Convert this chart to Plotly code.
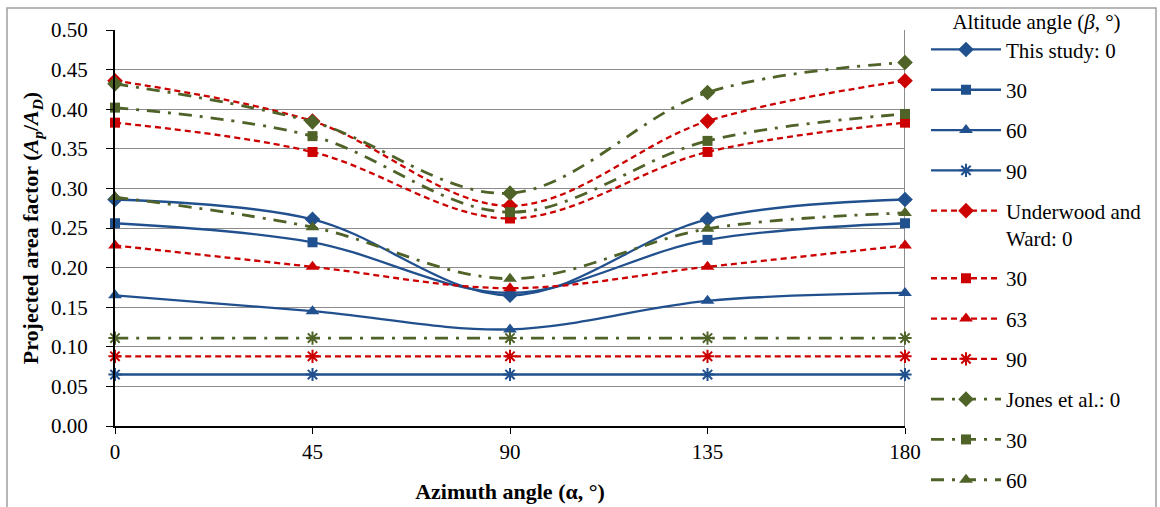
import plotly.graph_objects as go

azimuth = [0, 45, 90, 135, 180]

this_0 = [0.286, 0.261, 0.165, 0.261, 0.286]
this_30 = [0.256, 0.232, 0.168, 0.235, 0.256]
this_60 = [0.165, 0.145, 0.122, 0.158, 0.168]
this_90 = [0.065, 0.065, 0.065, 0.065, 0.065]

uw_0 = [0.436, 0.385, 0.278, 0.385, 0.436]
uw_30 = [0.383, 0.346, 0.262, 0.346, 0.383]
uw_63 = [0.228, 0.201, 0.174, 0.201, 0.228]
uw_90 = [0.088, 0.088, 0.088, 0.088, 0.088]

jones_0 = [0.432, 0.384, 0.294, 0.421, 0.459]
jones_30 = [0.402, 0.366, 0.270, 0.360, 0.394]
jones_60 = [0.289, 0.251, 0.186, 0.249, 0.269]
jones_90 = [0.111, 0.111, 0.111, 0.111, 0.111]

y_ticks = [0.00, 0.05, 0.10, 0.15, 0.20, 0.25, 0.30, 0.35, 0.40, 0.45, 0.50]

BLUE = "#21508E"
RED = "#CC0000"
GREEN = "#4F6228"
FONT = "Liberation Serif"

series = [
    ("This study: 0", this_0, BLUE, "solid", "diamond", 12, True, 2.3),
    ("30", this_30, BLUE, "solid", "square", 10, True, 2.3),
    ("60", this_60, BLUE, "solid", "triangle-up", 12, True, 2.3),
    ("90", this_90, BLUE, "solid", "asterisk-open", 11, True, 2.3),
    ("Underwood and<br>Ward: 0", uw_0, RED, "6px,4px", "diamond", 12, True, 2.3),
    ("30", uw_30, RED, "6px,4px", "square", 10, True, 2.3),
    ("63", uw_63, RED, "6px,4px", "triangle-up", 12, True, 2.3),
    ("90", uw_90, RED, "6px,4px", "asterisk-open", 11, True, 2.3),
    ("Jones et al.: 0", jones_0, GREEN, "13px,8px,3px,8px", "diamond", 12, True, 2.8),
    ("30", jones_30, GREEN, "13px,8px,3px,8px", "square", 10, True, 2.8),
    ("60", jones_60, GREEN, "13px,8px,3px,8px", "triangle-up", 12, True, 2.8),
    ("90", jones_90, GREEN, "13px,8px,3px,8px", "asterisk-open", 11, False, 2.8),
]

fig = go.Figure()
for i, (name, vals, color, dash, sym, size, show, lw) in enumerate(series):
    fig.add_trace(go.Scatter(
        x=azimuth, y=vals, name=name, mode="lines+markers",
        line=dict(color=color, width=lw, dash=dash, shape="spline", smoothing=1.0),
        marker=dict(symbol=sym, size=size, color=color,
                    line=dict(color=color, width=2 if "asterisk" in sym else 0)),
        cliponaxis=False, showlegend=show, legendgroup=f"g{i}",
    ))

fig.update_layout(
    width=1160, height=507,
    margin=dict(l=115, r=255, t=30, b=81, autoexpand=False),
    paper_bgcolor="white", plot_bgcolor="white",
    font=dict(family=FONT, size=21, color="black"),
    legend=dict(
        title=dict(text="Altitude angle (<i>β</i>, °)", font=dict(family=FONT, size=21), side="top center"),
        xref="container", yref="container",
        x=926 / 1160, xanchor="left", y=1 - 2 / 507, yanchor="top",
        font=dict(family=FONT, size=21),
        itemwidth=70, tracegroupgap=10, valign="top",
        maxheight=700,
        bgcolor="rgba(0,0,0,0)",
    ),
    xaxis=dict(
        range=[0, 180], tickvals=azimuth, ticktext=[str(a) for a in azimuth],
        showgrid=False, zeroline=False,
        showline=True, linecolor="black", linewidth=2,
        ticks="outside", ticklen=6, tickcolor="black", tickwidth=1,
        ticklabelstandoff=0,
        tickfont=dict(family=FONT, size=21),
        title=dict(text="<b>Azimuth angle (α, °)</b>", font=dict(family=FONT, size=22), standoff=20),
    ),
    yaxis=dict(
        range=[0, 0.5], tickvals=y_ticks, ticktext=[f"{v:.2f}" for v in y_ticks],
        showgrid=True, gridcolor="#8C8C8C", gridwidth=1,
        zeroline=False,
        showline=True, linecolor="black", linewidth=2,
        ticks="outside", ticklen=7, tickcolor="black", tickwidth=1,
        ticklabelstandoff=14,
        tickfont=dict(family=FONT, size=21),
        title=dict(text="<b>Projected area factor (<i>A</i><sub><i>p</i></sub>/<i>A</i><sub><i>D</i></sub>)</b>",
                   font=dict(family=FONT, size=22), standoff=6),
    ),
    shapes=[
        dict(type="line", xref="x", yref="paper", x0=180, x1=180, y0=0, y1=1,
             line=dict(color="#8C8C8C", width=2), layer="below"),
        dict(type="rect", xref="paper", yref="paper",
             x0=(7 - 115) / 790, x1=(1156 - 115) / 790,
             y0=(426 - 520) / 396, y1=(426 - 8) / 396,
             line=dict(color="#A0A0A0", width=1.5), fillcolor="rgba(0,0,0,0)", layer="below"),
    ],
)

fig.write_html("out.html")
